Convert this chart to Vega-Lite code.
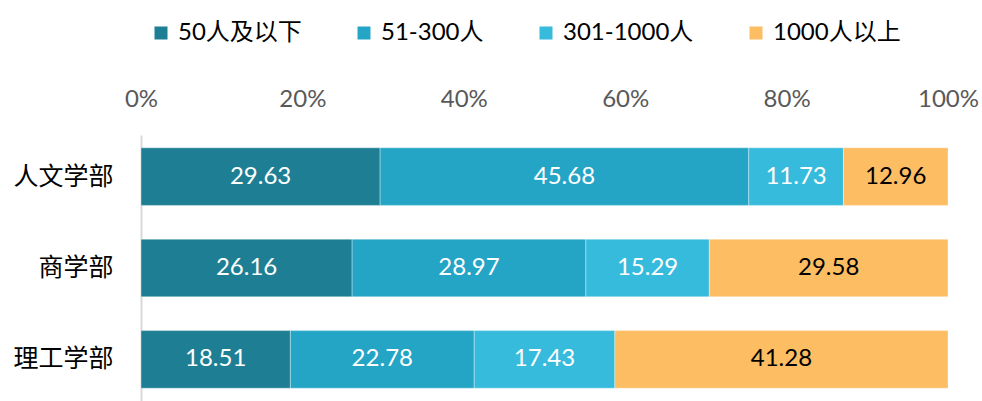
{
  "$schema": "https://vega.github.io/schema/vega-lite/v6.json",
  "width": 807,
  "height": 266,
  "autosize": {"type": "none"},
  "padding": {"left": 141, "top": 135, "right": 34, "bottom": 0},
  "config": {
    "view": {"stroke": null},
    "font": "Lato, 'Noto Sans CJK SC'"
  },
  "data": {
    "values": [
      {"dept": "人文学部", "group": "50人及以下", "rank": 1, "value": 29.63},
      {"dept": "人文学部", "group": "51-300人", "rank": 2, "value": 45.68},
      {"dept": "人文学部", "group": "301-1000人", "rank": 3, "value": 11.73},
      {"dept": "人文学部", "group": "1000人以上", "rank": 4, "value": 12.96},
      {"dept": "商学部", "group": "50人及以下", "rank": 1, "value": 26.16},
      {"dept": "商学部", "group": "51-300人", "rank": 2, "value": 28.97},
      {"dept": "商学部", "group": "301-1000人", "rank": 3, "value": 15.29},
      {"dept": "商学部", "group": "1000人以上", "rank": 4, "value": 29.58},
      {"dept": "理工学部", "group": "50人及以下", "rank": 1, "value": 18.51},
      {"dept": "理工学部", "group": "51-300人", "rank": 2, "value": 22.78},
      {"dept": "理工学部", "group": "301-1000人", "rank": 3, "value": 17.43},
      {"dept": "理工学部", "group": "1000人以上", "rank": 4, "value": 41.28}
    ]
  },
  "encoding": {
    "y": {
      "field": "dept",
      "type": "nominal",
      "sort": ["人文学部", "商学部", "理工学部"],
      "title": null,
      "scale": {"paddingInner": 0.37, "paddingOuter": 0.14},
      "axis": {
        "domain": true,
        "domainColor": "#d9d9d9",
        "domainWidth": 2,
        "ticks": false,
        "labelFont": "Noto Sans CJK SC",
        "labelFontSize": 25,
        "labelColor": "#000000",
        "labelPadding": 28
      }
    }
  },
  "layer": [
    {
      "mark": {"type": "bar", "stroke": "#ffffff", "strokeWidth": 1, "strokeOpacity": 0.35},
      "encoding": {
        "x": {
          "field": "value",
          "type": "quantitative",
          "stack": "normalize",
          "title": null,
          "axis": {
            "orient": "top",
            "values": [0, 0.2, 0.4, 0.6, 0.8, 1],
            "format": ".0%",
            "domain": false,
            "ticks": false,
            "grid": false,
            "labelFlush": false,
            "labelBound": false,
            "labelOverlap": false,
            "labelFontSize": 24,
            "labelColor": "#595959",
            "labelPadding": 24
          }
        },
        "color": {
          "field": "group",
          "type": "nominal",
          "scale": {
            "domain": ["50人及以下", "51-300人", "301-1000人", "1000人以上"],
            "range": ["#1e7f94", "#25a5c5", "#37bbdc", "#fdbd63"]
          },
          "legend": {
            "title": null,
            "orient": "none",
            "legendX": 8,
            "legendY": -114,
            "direction": "horizontal",
            "symbolType": "square",
            "symbolSize": 169,
            "symbolStrokeWidth": 0,
            "labelFontSize": 24,
            "labelColor": "#000000",
            "labelOffset": 5,
            "columnPadding": 50,
            "padding": 0
          }
        },
        "order": {"field": "rank", "type": "quantitative"}
      }
    },
    {
      "mark": {"type": "text", "fontSize": 24},
      "encoding": {
        "x": {"field": "value", "type": "quantitative", "stack": "normalize", "bandPosition": 0.5},
        "detail": {"field": "group", "type": "nominal"},
        "order": {"field": "rank", "type": "quantitative"},
        "text": {"field": "value", "type": "quantitative", "format": ".2f"},
        "color": {
          "condition": {"test": "datum['group'] === '1000人以上'", "value": "#000000"},
          "value": "#ffffff"
        }
      }
    }
  ]
}
